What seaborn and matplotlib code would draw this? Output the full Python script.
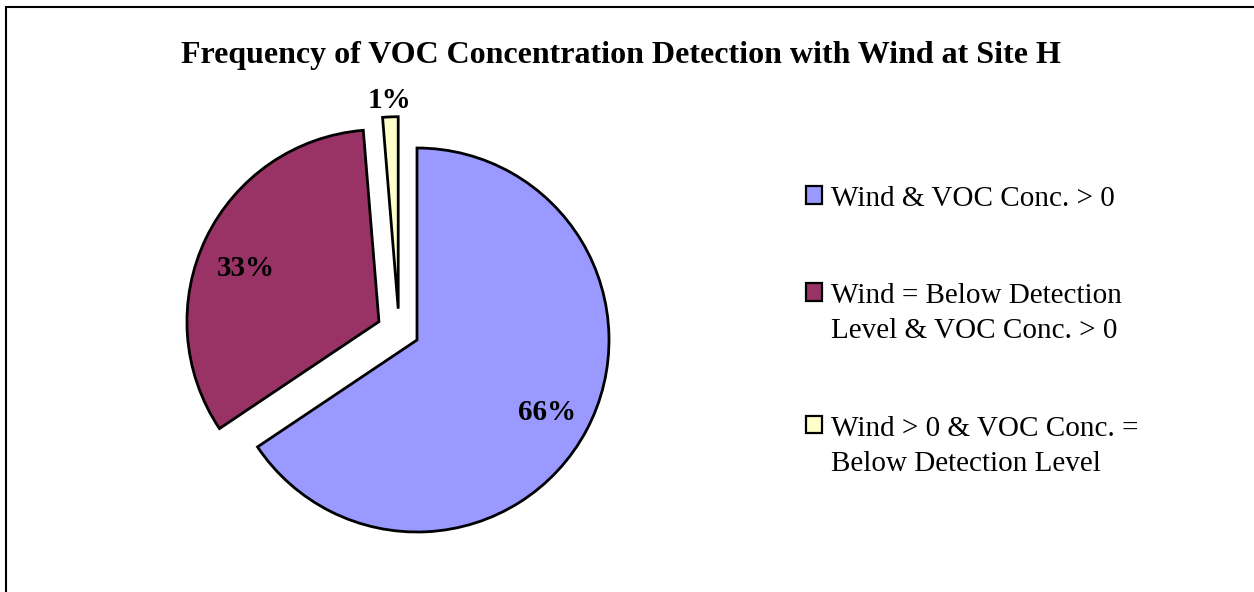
import numpy as np
import matplotlib
matplotlib.use("Agg")
import matplotlib.pyplot as plt
import matplotlib.patches as mpatches
import seaborn as sns

# ------------------------------------------
# Data
# ------------------------------------------

categories = [
    "Wind & VOC Conc. > 0",
    "Wind = Below Detection\nLevel & VOC Conc. > 0",
    "Wind > 0 & VOC Conc. =\nBelow Detection Level",
]
shares = [65.6, 33.1, 1.3]
pct_labels = ["66%", "33%", "1%"]

colors = ["#9999FF", "#993366", "#FFFFCC"]

# ------------------------------------------
# Style
# ------------------------------------------

sns.set_style("white")
plt.rcParams["font.family"] = ["Liberation Serif", "DejaVu Serif"]
plt.rcParams["text.color"] = "black"

fig = plt.figure(figsize=(12.54, 5.92), dpi=100)

# pie axes: centre near (417, 340) px, radius ~192 px
side = 2.6 * 192
ax = fig.add_axes([
    (417 - side / 2) / 1254,
    (592 - 340 - side / 2) / 592,
    side / 1254,
    side / 592,
])

wedges, _ = ax.pie(
    shares,
    colors=colors,
    startangle=90,
    counterclock=False,
    explode=[0, 0.22, 0],
    radius=1,
    wedgeprops=dict(edgecolor="black", linewidth=2),
)

# the small slice is pulled out up and to the left
ang = np.deg2rad(121)
wedges[2].set_center((0.19 * np.cos(ang), 0.19 * np.sin(ang)))

ax.set_xlim(-1.3, 1.3)
ax.set_ylim(-1.3, 1.3)
ax.set_aspect("equal")
ax.axis("off")

# ------------------------------------------
# Percentage labels
# ------------------------------------------

label_dist = [0.77, 0.75, 1.1]
label_shift = [0, 3, 0]   # small angular nudge, degrees
for w, txt, d, s in zip(wedges, pct_labels, label_dist, label_shift):
    mid = np.deg2rad((w.theta1 + w.theta2) / 2 + s)
    cx, cy = w.center
    ax.text(
        cx + d * np.cos(mid),
        cy + d * np.sin(mid),
        txt,
        ha="center",
        va="center_baseline",
        fontsize=21,
        fontweight="bold",
        color="black",
    )

# ------------------------------------------
# Title
# ------------------------------------------

fig.text(
    0.495,
    1 - 55 / 592,
    "Frequency of VOC Concentration Detection with Wind at Site H",
    ha="center",
    va="center",
    fontsize=23,
    fontweight="bold",
    color="black",
)

# ------------------------------------------
# Legend
# ------------------------------------------

handles = [
    mpatches.Patch(facecolor=c, edgecolor="black", linewidth=1.6)
    for c in colors
]

leg = fig.legend(
    handles,
    categories,
    loc="upper left",
    bbox_to_anchor=(806 / 1254, 1 - 186 / 592),
    frameon=False,
    fontsize=21,
    handlelength=0.55,
    handleheight=0.55,
    handletextpad=0.3,
    labelspacing=2.45,
    borderpad=0,
    borderaxespad=0,
)
for t in leg.get_texts():
    t.set_linespacing(1.45)
    t.set_color("black")
for hp in leg._legend_handle_box.get_children()[0].get_children():
    hp.align = "top"

# ------------------------------------------
# Outer frame
# ------------------------------------------

fig.add_artist(mpatches.Rectangle(
    (6 / 1254, -1),
    2,
    1 + (1 - 7 / 592),
    transform=fig.transFigure,
    fill=False,
    edgecolor="black",
    linewidth=1.5,
))

fig.savefig("out.png", dpi=100)
